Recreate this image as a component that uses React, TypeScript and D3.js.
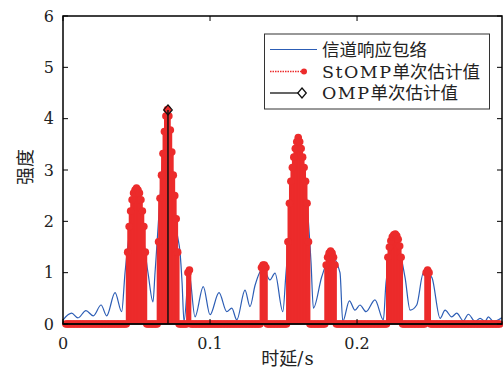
import React from 'react';
import * as d3 from 'd3';

const W = 503;
const H = 369;
const PLOT = { left: 63, right: 502, top: 16, bottom: 324 };
const X_MAX = 0.2986;

const xTicks = [0, 0.1, 0.2];
const xTickLabels = ['0', '0.1', '0.2'];
const yTicks = [0, 1, 2, 3, 4, 5, 6];

// Channel response envelope (time in s, amplitude)
const envT = [0, 0.0059, 0.0102, 0.0156, 0.0206, 0.0259, 0.0297, 0.0354, 0.0399, 0.0422, 0.0503, 0.0578, 0.0612, 0.0626, 0.0714, 0.0745, 0.0775, 0.0796, 0.081, 0.0823, 0.0857, 0.0898, 0.0954, 0.1, 0.1061, 0.1114, 0.1148, 0.1182, 0.1238, 0.1272, 0.1306, 0.136, 0.1408, 0.1442, 0.1495, 0.1517, 0.1599, 0.1687, 0.1703, 0.176, 0.1823, 0.1884, 0.1903, 0.1948, 0.1986, 0.202, 0.2061, 0.2122, 0.2179, 0.2197, 0.2259, 0.2327, 0.2361, 0.2406, 0.2451, 0.2483, 0.251, 0.2565, 0.2599, 0.2644, 0.2678, 0.2723, 0.2757, 0.2803, 0.2837, 0.2871, 0.2893, 0.2927, 0.2973, 0.2986];
const envV = [0.08, 0.21, 0.12, 0.26, 0.16, 0.37, 0.16, 0.61, 0.24, 1.0, 2.4, 1.0, 0.43, 1.0, 3.9, 3.0, 1.8, 1.4, 0.8, 0.05, 1.0, 0.14, 0.73, 0.18, 0.61, 0.24, 0.31, 0.08, 0.66, 0.34, 0.75, 1.08, 0.86, 0.99, 0.24, 1.0, 3.4, 1.2, 0.31, 0.92, 1.33, 1.0, 0.05, 0.45, 0.27, 0.37, 0.24, 0.47, 0.08, 0.8, 1.62, 0.9, 0.27, 0.37, 0.99, 0.98, 0.9, 0.11, 0.27, 0.14, 0.21, 0.06, 0.19, 0.05, 0.11, 0.05, 0.14, 0.05, 0.1, 0.12];

// StOMP single estimate: sample grid (ms) and non-zero clusters
const STOMP_FIRST_MS = 2;
const STOMP_LAST_MS = 297;
const clusterStartMs = [44, 65, 85, 135, 153, 179, 221, 247];
const clusterValues = [
  [1.4, 1.9, 2.2, 2.42, 2.55, 2.61, 2.65, 2.61, 2.55, 2.42, 2.2, 1.9, 1.4],
  [1.6, 2.45, 2.9, 3.32, 3.75, 4.05, 4.18, 4.05, 3.78, 3.35, 2.9, 2.5, 2.05, 1.4],
  [1.0, 1.05],
  [1.1, 1.15, 1.15, 1.1],
  [1.6, 2.35, 2.78, 3.05, 3.25, 3.42, 3.55, 3.63, 3.55, 3.42, 3.25, 3.05, 2.78, 2.35, 1.6],
  [1.15, 1.3, 1.38, 1.42, 1.38, 1.3, 1.15],
  [1.3, 1.5, 1.62, 1.7, 1.74, 1.75, 1.72, 1.65, 1.52, 1.3],
  [1.0, 1.05, 1.0],
];

// OMP single estimate
const ompT = [0.0714];
const ompV = [4.17];

const RED = '#ec2b2b';
const BLUE = '#2c5db5';
const CJK = "'Noto Sans CJK SC', sans-serif";
const SERIF = "'DejaVu Serif', serif";

export default function App() {
  const x = d3.scaleLinear().domain([0, X_MAX]).range([PLOT.left, PLOT.right]);
  const y = d3.scaleLinear().domain([0, 6]).range([PLOT.bottom, PLOT.top]);

  const valueByMs = new Map<number, number>();
  clusterStartMs.forEach((s, ci) => {
    clusterValues[ci].forEach((v, k) => valueByMs.set(s + k, v));
  });
  const stomp = d3.range(STOMP_FIRST_MS, STOMP_LAST_MS + 1).map((ms) => ({
    t: ms / 1000,
    v: valueByMs.get(ms) ?? 0,
  }));

  const envLine = d3
    .line<number>()
    .x((_, i) => x(envT[i]))
    .y((d) => y(d))
    .curve(d3.curveMonotoneX);

  const tick = 5;

  const diamond = (cx: number, cy: number, r: number) =>
    `M${cx},${cy - r}L${cx + r * 0.85},${cy}L${cx},${cy + r}L${cx - r * 0.85},${cy}Z`;

  const legend = { x: 264.5, y: 34, w: 225, h: 75 };
  const rows = [49.5, 71.5, 93];

  return (
    <svg width={W} height={H} style={{ position: 'absolute', left: 0, top: 0, background: '#fff' }}>
      <defs>
        <clipPath id="plotclip">
          <rect x={PLOT.left} y={PLOT.top} width={PLOT.right - PLOT.left} height={PLOT.bottom - PLOT.top} />
        </clipPath>
      </defs>
      <rect x={0} y={0} width={W} height={H} fill="#fff" />

      {/* envelope */}
      <path d={envLine(envV) ?? ''} fill="none" stroke={BLUE} strokeWidth={1.2} clipPath="url(#plotclip)" />

      {/* StOMP stems */}
      <g>
        {stomp.filter((d) => d.v > 0).map((d, i) => (
          <line key={'s' + i} x1={x(d.t)} x2={x(d.t)} y1={y(0)} y2={y(d.v)} stroke={RED} strokeWidth={3.8} />
        ))}
        {stomp.map((d, i) => (
          <circle key={'m' + i} cx={x(d.t)} cy={y(d.v)} r={3.8} fill={RED} />
        ))}
      </g>

      {/* OMP stem baseline + stem */}
      <line x1={PLOT.left} x2={PLOT.right} y1={y(0)} y2={y(0)} stroke="#1a1a1a" strokeWidth={1.3} />
      {ompT.map((t, i) => (
        <g key={'o' + i}>
          <line x1={x(t)} x2={x(t)} y1={y(0)} y2={y(ompV[i])} stroke="#111" strokeWidth={1.5} />
          <path d={diamond(x(t), y(ompV[i]), 5)} fill="none" stroke="#111" strokeWidth={1.3} />
        </g>
      ))}

      {/* axes box */}
      <rect
        x={PLOT.left}
        y={PLOT.top}
        width={PLOT.right - PLOT.left}
        height={PLOT.bottom - PLOT.top}
        fill="none"
        stroke="#000"
        strokeWidth={1.5}
      />
      {yTicks.map((v) => (
        <g key={'yt' + v}>
          <line x1={PLOT.left} x2={PLOT.left + tick} y1={y(v)} y2={y(v)} stroke="#000" strokeWidth={1} />
          <line x1={PLOT.right} x2={PLOT.right - tick} y1={y(v)} y2={y(v)} stroke="#000" strokeWidth={1} />
          <text x={54} y={y(v)} dy="0.36em" textAnchor="end" fontFamily={SERIF} fontSize={16} fill="#222">
            {v}
          </text>
        </g>
      ))}
      {xTicks.map((v, i) => (
        <g key={'xt' + v}>
          <line x1={x(v)} x2={x(v)} y1={PLOT.bottom} y2={PLOT.bottom - tick} stroke="#000" strokeWidth={1} />
          <line x1={x(v)} x2={x(v)} y1={PLOT.top} y2={PLOT.top + tick} stroke="#000" strokeWidth={1} />
          <text x={x(v)} y={349} textAnchor="middle" fontFamily={SERIF} fontSize={16} fill="#222">
            {xTickLabels[i]}
          </text>
        </g>
      ))}

      {/* axis labels */}
      <text x={288} y={365} textAnchor="middle" fontSize={18} fill="#222">
        <tspan fontFamily={CJK}>时延</tspan>
        <tspan fontFamily={SERIF} letterSpacing={1}>/s</tspan>
      </text>
      <text
        transform={`translate(32,167) rotate(-90)`}
        textAnchor="middle"
        fontFamily={CJK}
        fontSize={18}
        fill="#222"
      >
        强度
      </text>

      {/* legend */}
      <rect x={legend.x} y={legend.y} width={legend.w} height={legend.h} fill="#fff" stroke="#333" strokeWidth={1} />
      <line x1={270} x2={317} y1={rows[0]} y2={rows[0]} stroke={BLUE} strokeWidth={1.2} />
      <text x={322} y={rows[0] + 6} fontFamily={CJK} fontSize={17.5} fill="#222">
        信道响应包络
      </text>
      <line x1={270} x2={304} y1={rows[1]} y2={rows[1]} stroke={RED} strokeWidth={1.6} strokeDasharray="1.5,1" />
      <circle cx={304} cy={rows[1]} r={3} fill={RED} />
      <text x={322} y={rows[1] + 6} fontSize={17.5} fill="#222">
        <tspan fontFamily={SERIF} letterSpacing={1.5}>StOMP</tspan>
        <tspan fontFamily={CJK}>单次估计值</tspan>
      </text>
      <line x1={270} x2={302} y1={rows[2]} y2={rows[2]} stroke="#111" strokeWidth={1.3} />
      <path d={diamond(302, rows[2], 5)} fill="#fff" stroke="#111" strokeWidth={1.3} />
      <text x={322} y={rows[2] + 6} fontSize={17.5} fill="#222">
        <tspan fontFamily={SERIF} letterSpacing={1.5}>OMP</tspan>
        <tspan fontFamily={CJK}>单次估计值</tspan>
      </text>
    </svg>
  );
}
